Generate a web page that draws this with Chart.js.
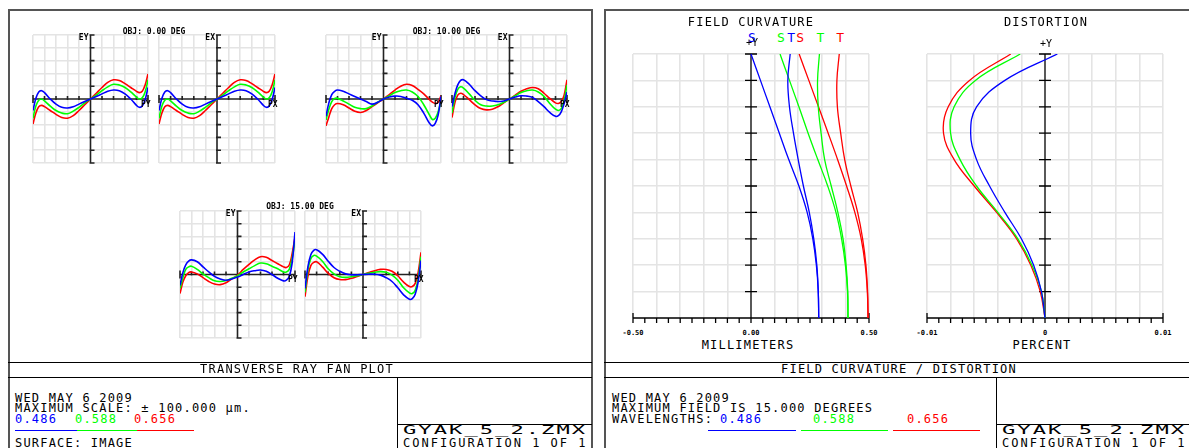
<!DOCTYPE html>
<html lang="en">
<head>
<meta charset="UTF-8">
<title>Transverse Ray Fan Plot / Field Curvature - Distortion</title>
<script src="https://cdn.jsdelivr.net/npm/chart.js"></script>
<style>
  body { margin: 0; background: #fff; }
  #page { position: relative; width: 1189px; height: 448px; overflow: hidden; background: #fff; }
  .t { position: absolute; white-space: nowrap; font-family: 'DejaVu Sans Mono', monospace; color: #000; }
  .big { font-size: 12px; line-height: 12px; letter-spacing: 1.2px; }
  .tiny { font-size: 8px; line-height: 8px; font-weight: bold; }
  .tick { font-size: 7px; line-height: 7px; font-weight: bold; }
  .leg { font-size: 13px; line-height: 13px; }
  .plus { font-size: 10px; line-height: 10px; }
  .gyak { font-size: 13px; line-height: 13px; letter-spacing: 1.2px; transform: scaleX(1.7); transform-origin: 0 0; }
  .cfg { font-size: 12px; line-height: 12px; letter-spacing: 2px; }
  .ln { position: absolute; background: #000; }
  canvas { position: absolute; }
</style>
</head>
<body>
<div id="page"></div>
<script>
// pupil coordinate (PY / PX), normalised
const pupil = [-1, -0.95, -0.9, -0.85, -0.8, -0.7, -0.6, -0.5, -0.4, -0.3, -0.2, -0.1, 0, 0.1, 0.2, 0.3, 0.4, 0.5, 0.6, 0.7, 0.8, 0.85, 0.9, 0.95, 1];

// ray fan errors in micrometres, OBJ 0.00 DEG (EY and EX are the same on axis)
const fan0Blue  = [-18, 1, 11, 13, 10, 0, -8, -13, -14, -12, -8, -4, 0, 4, 8, 12, 14, 13, 8, 0, -10, -13, -11, -1, 18];
const fan0Green = [-30, -11, -2, 0, -3, -11, -18, -22, -23, -19, -13, -6, 0, 6, 13, 19, 23, 22, 18, 11, 3, 0, 2, 11, 30];
const fan0Red   = [-39, -22, -12, -10, -12, -18, -24, -29, -30, -26, -18, -9, 0, 9, 18, 26, 30, 29, 24, 18, 12, 10, 12, 22, 39];

// OBJ 10.00 DEG
const fan10YBlue  = [-27, -6, 7, 12, 14, 12, 8, 4, 0, -4, -8, -5, 0, 3, 4.5, 4, 1, -2, -9, -22, -38, -42, -38, -25, 4];
const fan10YGreen = [-33, -16, -4, 1, 1, -3, -8, -13, -15, -15, -11, -5, 0, 5, 10, 13, 14, 11, 4, -9, -25, -32, -30, -20, -2];
const fan10YRed   = [-42, -28, -15, -9, -7, -9, -14, -19, -21, -18, -12, -6, 0, 7, 14, 20, 23, 21, 15, 8, -1, -5, -7, -5, 5];
const fan10XBlue  = [-12, 8, 22, 29, 30, 23, 13, 5, -1, -3, -4, -3, 0, 3, 5, 4.5, 2.5, -4, -12, -21, -27, -26, -20, -7, 11];
const fan10XGreen = [-22, 2, 15, 19, 17, 8, -2, -9, -11, -11, -9, -5, 0, 5, 10, 13, 14, 11, 4, -7, -16, -18, -15, -2, 22];
const fan10XRed   = [-29, -6, 6, 9, 7, -1, -9, -15, -17, -16, -12, -6, 0, 6, 12, 16, 18, 16, 9, 1, -6, -7, -4, 6, 30];

// OBJ 15.00 DEG
const fan15YBlue  = [-17, 3, 15, 21, 23, 20, 12, 4, -3, -7, -9, -7, -4, 0, 4, 6, 7, 5, 0, -6, -10, -9, -3, 18, 67];
const fan15YGreen = [-22, -5, 8, 12, 13, 8, 1, -5, -10, -11, -9.5, -6, -2, 4, 9, 14, 18, 17, 13, 9, 4, 4, 8, 25, 55];
const fan15YRed   = [-30, -12, -2, 3, 4, 1, -5, -11, -15, -16, -13, -7, -1, 8, 16, 23, 28, 27, 22, 17, 12, 11, 15, 33, 59];
const fan15XBlue  = [-22, 12, 31, 38, 39, 32, 21, 11, 5, 1, -0.5, -0.5, 0, 0.5, 0.5, -1, -5, -11, -21, -32, -39, -38, -31, -12, 22];
const fan15XGreen = [-28, 7, 25, 30, 29, 21, 9, 1, -3.5, -4.5, -3.5, -2, 0, 2, 3.5, 4.5, 3.5, -1, -9, -21, -29, -30, -25, -7, 28];
const fan15XRed   = [-35, -3, 14, 19, 20, 12, 2, -5, -8, -8, -6, -3, 0, 3, 6, 8, 8, 5, -2, -12, -19, -19, -14, 3, 35];

const fanXTicks = [-1, -0.8, -0.6, -0.4, -0.2, 0, 0.2, 0.4, 0.6, 0.8, 1];
const fanYTicks = [-100, -80, -60, -40, -20, 0, 20, 40, 60, 80, 100];

// field angle in degrees, 0 .. 15
const fieldDeg = [0, 1.5, 3, 4.5, 6, 7.5, 9, 10.5, 12, 13.5, 15];

// field curvature in millimetres (S = sagittal, T = tangential)
const fcBlueS  = [0.287, 0.285, 0.277, 0.262, 0.238, 0.203, 0.16, 0.12, 0.08, 0.04, 0.0];
const fcBlueT  = [0.287, 0.285, 0.279, 0.266, 0.247, 0.222, 0.2, 0.18, 0.163, 0.156, 0.166];
const fcGreenS = [0.411, 0.409, 0.4, 0.384, 0.36, 0.325, 0.283, 0.242, 0.203, 0.163, 0.123];
const fcGreenT = [0.411, 0.41, 0.403, 0.39, 0.368, 0.34, 0.312, 0.297, 0.285, 0.282, 0.29];
const fcRedS   = [0.496, 0.493, 0.484, 0.467, 0.44, 0.405, 0.367, 0.327, 0.286, 0.245, 0.204];
const fcRedT   = [0.496, 0.494, 0.487, 0.473, 0.452, 0.423, 0.397, 0.38, 0.366, 0.364, 0.374];

// distortion in percent
const distBlue  = [0, -0.0003, -0.00096, -0.002, -0.0034, -0.0047, -0.0058, -0.0063, -0.0058, -0.0034, 0.00105];
const distGreen = [0, -0.0003, -0.0011, -0.0023, -0.004, -0.0058, -0.0072, -0.008, -0.0077, -0.0059, -0.0021];
const distRed   = [0, -0.0004, -0.0012, -0.0024, -0.0041, -0.006, -0.0077, -0.0086, -0.0082, -0.0064, -0.0029];

const fcTicks    = [-0.5, -0.4, -0.3, -0.2, -0.1, 0, 0.1, 0.2, 0.3, 0.4, 0.5];
const fcMinor    = [-0.5, -0.45, -0.4, -0.35, -0.3, -0.25, -0.2, -0.15, -0.1, -0.05, 0, 0.05, 0.1, 0.15, 0.2, 0.25, 0.3, 0.35, 0.4, 0.45, 0.5];
const fcLabels   = ['-0.50', '0.00', '0.50'];
const distTicks  = [-0.01, -0.008, -0.006, -0.004, -0.002, 0, 0.002, 0.004, 0.006, 0.008, 0.01];
const distMinor  = [-0.01, -0.009, -0.008, -0.007, -0.006, -0.005, -0.004, -0.003, -0.002, -0.001, 0, 0.001, 0.002, 0.003, 0.004, 0.005, 0.006, 0.007, 0.008, 0.009, 0.01];
const distLabels = ['-0.01', '0', '0.01'];

const wavelengths = ['0.486', '0.588', '0.656'];
const BLUE = '#0000ff', GREEN = '#00ff00', RED = '#ff0000';

const page = document.getElementById('page');
const fontSize = { big: 12, tiny: 8, tick: 7, leg: 13, plus: 10, gyak: 13, cfg: 12 };

function label(str, x, base, cls, align, color) {
    const d = document.createElement('div');
    d.className = 't ' + cls;
    d.textContent = str;
    d.style.left = x + 'px';
    d.style.top = (base - 0.846 * fontSize[cls]) + 'px';
    if (align === 'center') d.style.transform = 'translateX(-50%)';
    if (align === 'right') d.style.transform = 'translateX(-100%)';
    if (color) d.style.color = color;
    page.appendChild(d);
    return d;
}

function rule(x, y, w, h, color) {
    const d = document.createElement('div');
    d.className = 'ln';
    d.style.left = x + 'px';
    d.style.top = y + 'px';
    d.style.width = w + 'px';
    d.style.height = h + 'px';
    if (color) d.style.background = color;
    page.appendChild(d);
}

// axes through zero with small tick marks
const axesPlugin = {
    id: 'zaxes',
    beforeDatasetsDraw(chart, args, o) {
        const { ctx, chartArea: a, scales: { x, y } } = chart;
        const x0 = x.getPixelForValue(0), y0 = y.getPixelForValue(0);
        ctx.save();
        ctx.strokeStyle = o.color;
        ctx.lineWidth = o.width;
        ctx.beginPath();
        ctx.moveTo(x0, a.top); ctx.lineTo(x0, a.bottom);
        ctx.moveTo(a.left, y0); ctx.lineTo(a.right, y0);
        y.ticks.forEach(t => {
            const py = y.getPixelForValue(t.value);
            ctx.moveTo(x0 - o.left, py); ctx.lineTo(x0 + o.right, py);
        });
        (o.minor || x.ticks.map(t => t.value)).forEach(v => {
            const px = x.getPixelForValue(v);
            const cap = (v === x.min || v === x.max) ? o.cap : 0;
            ctx.moveTo(px, y0 - Math.max(o.up, cap)); ctx.lineTo(px, y0 + Math.max(o.down, cap));
        });
        ctx.stroke();
        ctx.restore();
    }
};

function gridOpt() {
    return {
        drawTicks: false,
        lineWidth: 1.6,
        color: c => (c.tick && c.tick.value === 0) ? 'rgba(0,0,0,0)' : '#e4e4e4'
    };
}

function makePlot(rect, xr, xTicks, yr, yTicks, datasets, axes) {
    const pad = 7;
    const cv = document.createElement('canvas');
    cv.width = rect.w + 2 * pad;
    cv.height = rect.h + 2 * pad;
    cv.style.left = (rect.x - pad) + 'px';
    cv.style.top = (rect.y - pad) + 'px';
    page.appendChild(cv);
    return new Chart(cv, {
        type: 'scatter',
        data: { datasets },
        options: {
            responsive: false,
            animation: false,
            devicePixelRatio: 1,
            events: [],
            layout: { padding: pad },
            plugins: { legend: { display: false }, tooltip: { enabled: false }, zaxes: axes },
            scales: {
                x: {
                    type: 'linear', min: xr[0], max: xr[1],
                    afterBuildTicks: s => { s.ticks = xTicks.map(v => ({ value: v })); },
                    ticks: { display: false }, grid: gridOpt(), border: { display: false }
                },
                y: {
                    type: 'linear', min: yr[0], max: yr[1],
                    afterBuildTicks: s => { s.ticks = yTicks.map(v => ({ value: v })); },
                    ticks: { display: false }, grid: gridOpt(), border: { display: false }
                }
            }
        },
        plugins: [axesPlugin]
    });
}

function fanSet(ys, color) {
    return { data: pupil.map((p, i) => ({ x: p, y: ys[i] })), showLine: true, borderColor: color,
             borderWidth: 1.6, pointRadius: 0, tension: 0.4, fill: false };
}
function fieldSet(xs, color) {
    return { data: fieldDeg.map((f, i) => ({ x: xs[i], y: f })), showLine: true, borderColor: color,
             borderWidth: 1.3, pointRadius: 0, tension: 0.4, fill: false };
}

// ---------- frames ----------
rule(8, 9, 585, 2, '#555');
rule(8, 9, 2, 440, '#555');
rule(591, 9, 2, 440, '#555');
rule(8, 362, 584, 1);
rule(8, 377, 584, 1);
rule(397, 377, 1, 71);
rule(397, 424, 195, 1);

rule(604, 9, 585, 2, '#555');
rule(604, 9, 2, 440, '#555');
rule(604, 362, 585, 1);
rule(604, 377, 585, 1);
rule(996, 377, 1, 71);
rule(996, 424, 193, 1);

// ---------- transverse ray fans ----------
const fanAxes = { color: '#222', width: 1.6, left: 1, right: 4, up: 3, down: 1, cap: 4 };
const fans = [
    { rect: { x: 33, y: 35, w: 115, h: 128 }, v: 'EY', h: 'PY', sets: [fan0Blue, fan0Green, fan0Red] },
    { rect: { x: 159, y: 35, w: 116, h: 128 }, v: 'EX', h: 'PX', sets: [fan0Blue, fan0Green, fan0Red] },
    { rect: { x: 326, y: 35, w: 115, h: 128 }, v: 'EY', h: 'PY', sets: [fan10YBlue, fan10YGreen, fan10YRed] },
    { rect: { x: 452, y: 35, w: 115, h: 128 }, v: 'EX', h: 'PX', sets: [fan10XBlue, fan10XGreen, fan10XRed] },
    { rect: { x: 180, y: 211, w: 115, h: 127 }, v: 'EY', h: 'PY', sets: [fan15YBlue, fan15YGreen, fan15YRed] },
    { rect: { x: 305, y: 211, w: 116, h: 127 }, v: 'EX', h: 'PX', sets: [fan15XBlue, fan15XGreen, fan15XRed] }
];
fans.forEach(f => {
    const chart = makePlot(f.rect, [-1, 1], fanXTicks, [-100, 100], fanYTicks,
        [fanSet(f.sets[0], BLUE), fanSet(f.sets[1], GREEN), fanSet(f.sets[2], RED)], fanAxes);
    const left = chart.canvas.offsetLeft, top = chart.canvas.offsetTop;
    const x0 = left + chart.scales.x.getPixelForValue(0);
    const y0 = top + chart.scales.y.getPixelForValue(0);
    label(f.v, x0 - 2, f.rect.y + 6, 'tiny', 'right');
    label(f.h, f.rect.x + f.rect.w - 7, y0 + 8.5, 'tiny');
});
label('OBJ: 0.00 DEG', 154, 34.5, 'tiny', 'center');
label('OBJ: 10.00 DEG', 446.5, 34.5, 'tiny', 'center');
label('OBJ: 15.00 DEG', 300, 209.5, 'tiny', 'center');

// ---------- field curvature ----------
const fcAxes = { color: '#000', width: 1.3, left: 6, right: 6, up: 0, down: 5, cap: 5, minor: fcMinor };
const fc = makePlot({ x: 633, y: 54, w: 236, h: 264 }, [-0.5, 0.5], fcTicks, [0, 15], fieldDeg,
    [fieldSet(fcBlueS, BLUE), fieldSet(fcBlueT, BLUE), fieldSet(fcGreenS, GREEN),
     fieldSet(fcGreenT, GREEN), fieldSet(fcRedS, RED), fieldSet(fcRedT, RED)], fcAxes);

const distAxes = { color: '#000', width: 1.3, left: 6, right: 6, up: 0, down: 5, cap: 5, minor: distMinor };
const dist = makePlot({ x: 927, y: 54, w: 236, h: 264 }, [-0.01, 0.01], distTicks, [0, 15], fieldDeg,
    [fieldSet(distBlue, BLUE), fieldSet(distGreen, GREEN), fieldSet(distRed, RED)], distAxes);

function pageX(chart, v) { return chart.canvas.offsetLeft + chart.scales.x.getPixelForValue(v); }

const last = fieldDeg.length - 1;
[['S', fcBlueS, BLUE], ['S', fcGreenS, GREEN], ['T', fcBlueT, BLUE],
 ['S', fcRedS, RED], ['T', fcGreenT, GREEN], ['T', fcRedT, RED]].forEach(([s, arr, c]) => {
    label(s, pageX(fc, arr[last]) + 1, 42, 'leg', 'center', c);
});
label('+Y', pageX(fc, 0) + 1, 46.5, 'plus', 'center');
label('+Y', pageX(dist, 0) + 1, 47, 'plus', 'center');

[-0.5, 0, 0.5].forEach((v, i) => label(fcLabels[i], pageX(fc, v), 335.5, 'tick', 'center'));
[-0.01, 0, 0.01].forEach((v, i) => label(distLabels[i], pageX(dist, v), 335.5, 'tick', 'center'));

label('FIELD CURVATURE', 751, 26, 'big', 'center');
label('DISTORTION', 1046, 26, 'big', 'center');
label('MILLIMETERS', 748, 349, 'big', 'center');
label('PERCENT', 1042, 349, 'big', 'center');

// ---------- bottom text boxes ----------
label('TRANSVERSE RAY FAN PLOT', 297, 373.5, 'big', 'center');
label('WED MAY 6 2009', 15, 402, 'big');
label('MAXIMUM SCALE: \u00b1 100.000 \u00b5m.', 15, 412.5, 'big');
label(wavelengths[0], 15, 423, 'big', null, BLUE);
label(wavelengths[1], 75, 423, 'big', null, GREEN);
label(wavelengths[2], 134, 423, 'big', null, RED);
rule(15, 430, 62, 1, BLUE);
rule(77, 430, 60, 1, GREEN);
rule(137, 430, 57, 1, RED);
label('SURFACE: IMAGE', 15, 447, 'big');
label('GYAK_5_2.ZMX', 403, 433.5, 'gyak');
label('CONFIGURATION 1 OF 1', 403, 447, 'cfg');

label('FIELD CURVATURE / DISTORTION', 899, 373.5, 'big', 'center');
label('WED MAY 6 2009', 612, 402, 'big');
label('MAXIMUM FIELD IS 15.000 DEGREES', 612, 412.5, 'big');
label('WAVELENGTHS:', 612, 423, 'big');
label(wavelengths[0], 720, 423, 'big', null, BLUE);
label(wavelengths[1], 813, 423, 'big', null, GREEN);
label(wavelengths[2], 907, 423, 'big', null, RED);
rule(708, 430, 88, 1, BLUE);
rule(801, 430, 87, 1, GREEN);
rule(893, 430, 87, 1, RED);
label('GYAK_5_2.ZMX', 1002, 433.5, 'gyak');
label('CONFIGURATION 1 OF 1', 1002, 447, 'cfg');
</script>
</body>
</html>
